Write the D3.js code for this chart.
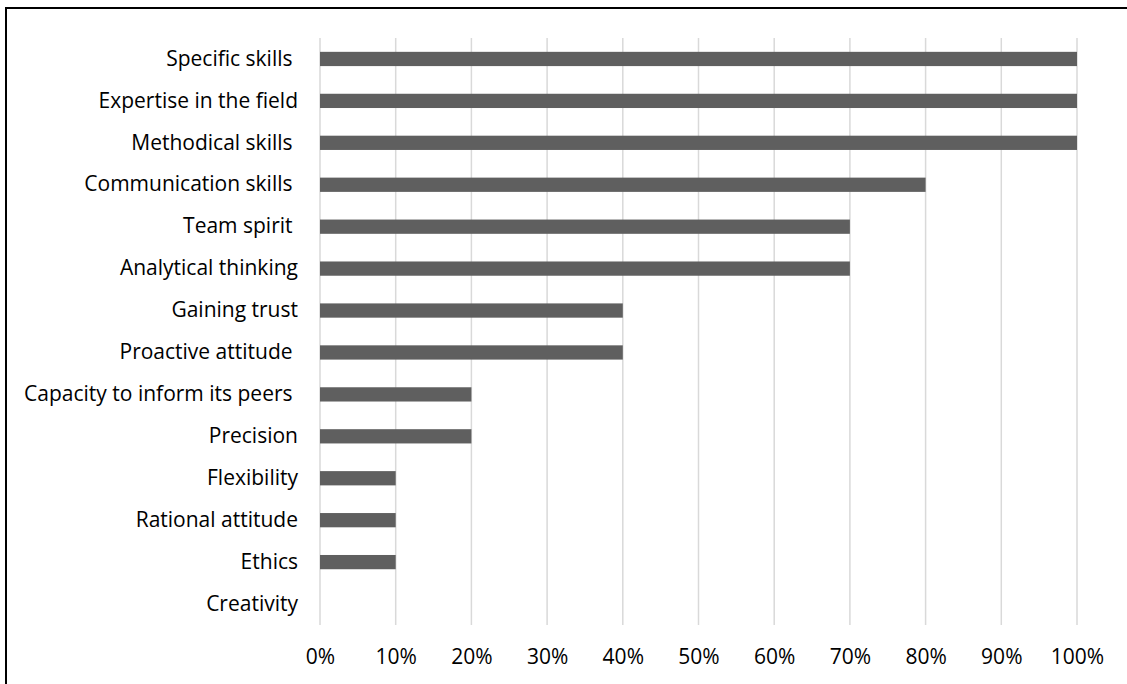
<!DOCTYPE html>
<html>
<head>
<meta charset="utf-8">
<script src="https://cdn.jsdelivr.net/npm/d3@7"></script>
<style>
    body { margin: 0; background: #fff; }
    text { white-space: pre; }
</style>
</head>
<body>
<div id="chart"></div>
<script>
// categories, top to bottom (trailing spaces are in the original labels)
const skills = [
    "Specific skills ",
    "Expertise in the field",
    "Methodical skills ",
    "Communication skills ",
    "Team spirit ",
    "Analytical thinking",
    "Gaining trust",
    "Proactive attitude ",
    "Capacity to inform its peers ",
    "Precision",
    "Flexibility",
    "Rational attitude",
    "Ethics",
    "Creativity"
];
const shares = [1.0, 1.0, 1.0, 0.8, 0.7, 0.7, 0.4, 0.4, 0.2, 0.2, 0.1, 0.1, 0.1, 0];
const tickValues = [0, 0.1, 0.2, 0.3, 0.4, 0.5, 0.6, 0.7, 0.8, 0.9, 1.0];

const width = 1127;
const height = 684;
const margin = { top: 38, right: 50, bottom: 59, left: 320 };
const font = "'Open Sans', sans-serif";

const svg = d3.select("#chart")
    .append("svg")
    .attr("width", width)
    .attr("height", height)
    .style("font-family", font);

// outer frame (only top and left edges fall inside the picture)
svg.append("rect")
    .attr("x", 6)
    .attr("y", 8)
    .attr("width", width + 20)
    .attr("height", height + 20)
    .attr("fill", "none")
    .attr("stroke", "#000")
    .attr("stroke-width", 2);

const xScale = d3.scaleLinear()
    .domain([0, 1])
    .range([margin.left, width - margin.right]);

const yScale = d3.scaleBand()
    .domain(skills)
    .range([margin.top, height - margin.bottom])
    .paddingInner(0.66)
    .paddingOuter(0.33);

// gridlines
svg.append("g")
    .selectAll("line")
    .data(tickValues)
    .enter()
    .append("line")
    .attr("x1", d => xScale(d))
    .attr("x2", d => xScale(d))
    .attr("y1", margin.top)
    .attr("y2", height - margin.bottom)
    .attr("stroke", "#d9d9d9")
    .attr("stroke-width", 1.5);

// bars
svg.selectAll(".bar")
    .data(skills)
    .enter()
    .append("rect")
    .attr("class", "bar")
    .attr("x", xScale(0))
    .attr("y", d => yScale(d))
    .attr("height", yScale.bandwidth())
    .attr("width", (d, i) => xScale(shares[i]) - xScale(0))
    .attr("fill", "#5f5f5f");

// category labels
const yAxis = d3.axisLeft(yScale).tickSize(0).tickPadding(22);
svg.append("g")
    .attr("transform", `translate(${margin.left},0)`)
    .call(yAxis)
    .call(g => g.select(".domain").remove())
    .selectAll("text")
    .style("font-size", "21px")
    .style("font-family", font)
    .attr("fill", "#000");

// x axis labels
const xAxis = d3.axisBottom(xScale)
    .tickValues(tickValues)
    .tickFormat(d3.format(".0%"))
    .tickSize(0)
    .tickPadding(24);
svg.append("g")
    .attr("transform", `translate(0,${height - margin.bottom})`)
    .call(xAxis)
    .call(g => g.select(".domain").remove())
    .selectAll("text")
    .style("font-size", "21px")
    .style("font-family", font)
    .attr("fill", "#000");
</script>
</body>
</html>
